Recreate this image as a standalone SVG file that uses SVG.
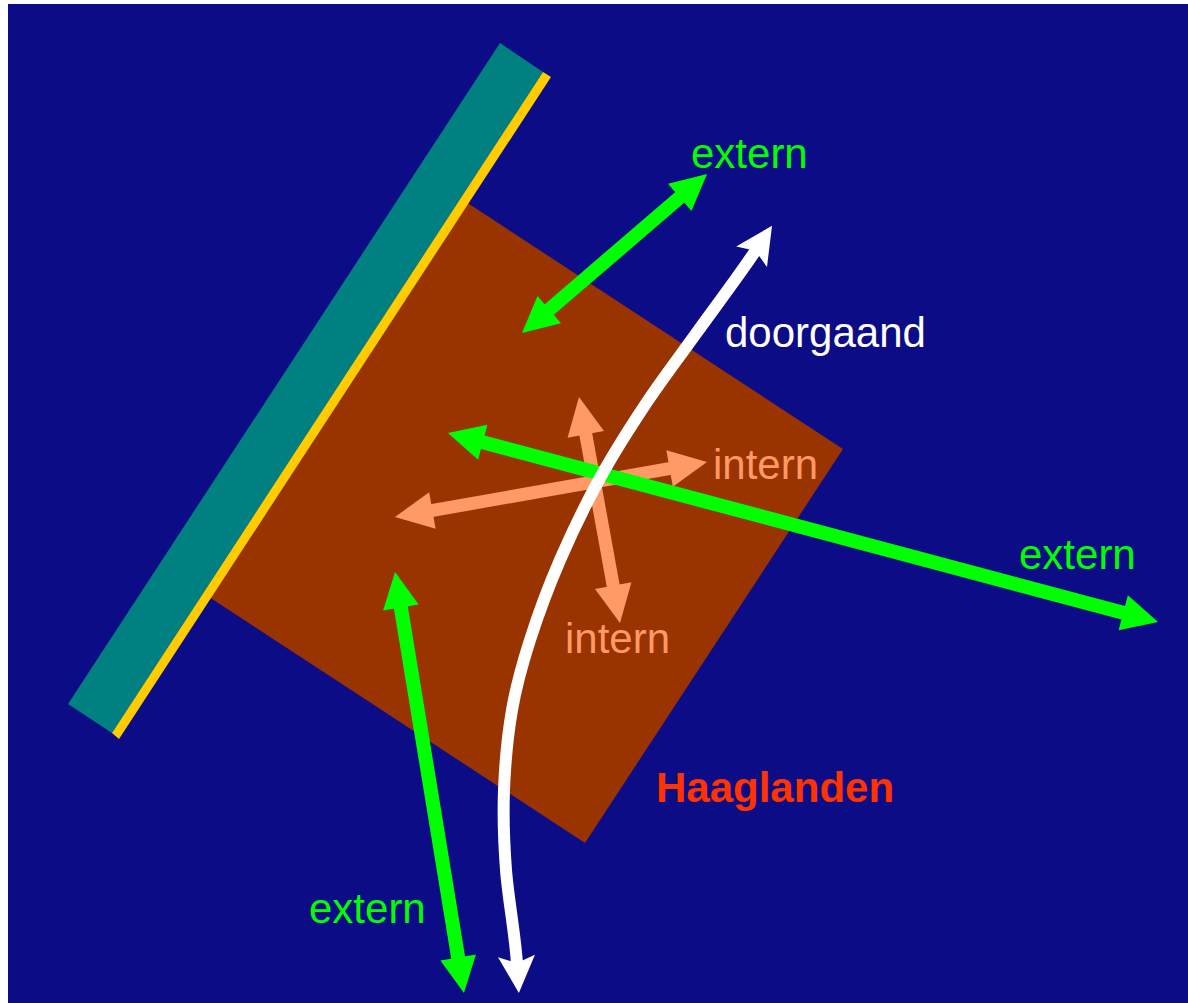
<svg xmlns="http://www.w3.org/2000/svg" width="1188" height="1003" viewBox="0 0 1188 1003">
<style>
  .lbl { font-family: "Liberation Sans", Arial, sans-serif; font-size: 42px; }
  .green { stroke: #00FF00; stroke-width: 14; fill: none; }
  .salmon { stroke: #FF9966; stroke-width: 13; fill: none; }
  .white { stroke: #FFFFFF; stroke-width: 12; fill: none; }
</style>
<defs>
  <marker id="hg" markerUnits="userSpaceOnUse" markerWidth="40" markerHeight="40" refX="1" refY="18" orient="auto-start-reverse" overflow="visible">
    <path d="M0,0 L36,18 L0,36 z" fill="#00FF00"/>
  </marker>
  <marker id="hs" markerUnits="userSpaceOnUse" markerWidth="40" markerHeight="40" refX="1" refY="18.5" orient="auto-start-reverse" overflow="visible">
    <path d="M0,0 L38,18.5 L0,37 z" fill="#FF9966"/>
  </marker>
  <marker id="hw" markerUnits="userSpaceOnUse" markerWidth="40" markerHeight="40" refX="8" refY="18.5" orient="auto-start-reverse" overflow="visible">
    <path d="M0,0 L37,18.5 L0,37 L7,18.5 z" fill="#FFFFFF"/>
  </marker>
</defs>
<rect x="0" y="0" width="1188" height="1003" fill="#FFFFFF"/>
<rect x="8" y="4" width="1180" height="999" fill="#0C0C86"/>

<g id="haaglanden-area">
  <polygon points="463,200 843,449 585,843 206,595" fill="#993300"/>
</g>
<g id="coast">
  <polygon points="500,43 543,72 112,733 68,704" fill="#008080"/>
  <polygon points="543,72 551,77 119,739 112,733" fill="#FFCC00"/>
</g>

<g id="connectors">
  <line class="salmon" x1="431.4" y1="510.6" x2="670.6" y2="468.4" marker-start="url(#hs)" marker-end="url(#hs)"/>
  <line class="salmon" x1="585.6" y1="433.4" x2="613.4" y2="586.6" marker-start="url(#hs)" marker-end="url(#hs)"/>
  <line class="green" x1="548.5" y1="310.2" x2="680.5" y2="196.8" marker-start="url(#hg)" marker-end="url(#hg)"/>
  <line class="green" x1="481.8" y1="442" x2="1124.2" y2="613" marker-start="url(#hg)" marker-end="url(#hg)"/>
  <line class="green" x1="400.7" y1="606.5" x2="458.3" y2="958.5" marker-start="url(#hg)" marker-end="url(#hg)"/>
  <path class="white" d="M517,964 C515,933 508.2,899 506,870 C503.8,841 503,816.7 504,790 C505,763.3 507.7,735 512,710 C516.3,685 522,665 530,640 C538,615 548.3,587 560,560 C571.7,533 585.8,503.8 600,478 C614.2,452.2 629.2,428.8 645,405 C660.8,381.2 676.5,360.8 695,335 C713.5,309.2 739.4,275 756,250" marker-start="url(#hw)" marker-end="url(#hw)"/>
</g>

<g id="labels">
  <text class="lbl" x="691" y="168" fill="#00FF00">extern</text>
  <text class="lbl" x="725" y="347" fill="#FFFFFF">doorgaand</text>
  <text class="lbl" x="713" y="479" fill="#FF9966">intern</text>
  <text class="lbl" x="1019" y="569" fill="#00FF00">extern</text>
  <text class="lbl" x="565" y="653" fill="#FF9966">intern</text>
  <text class="lbl" x="656" y="802" fill="#FF3300" font-weight="bold">Haaglanden</text>
  <text class="lbl" x="309" y="923" fill="#00FF00">extern</text>
</g>
</svg>
